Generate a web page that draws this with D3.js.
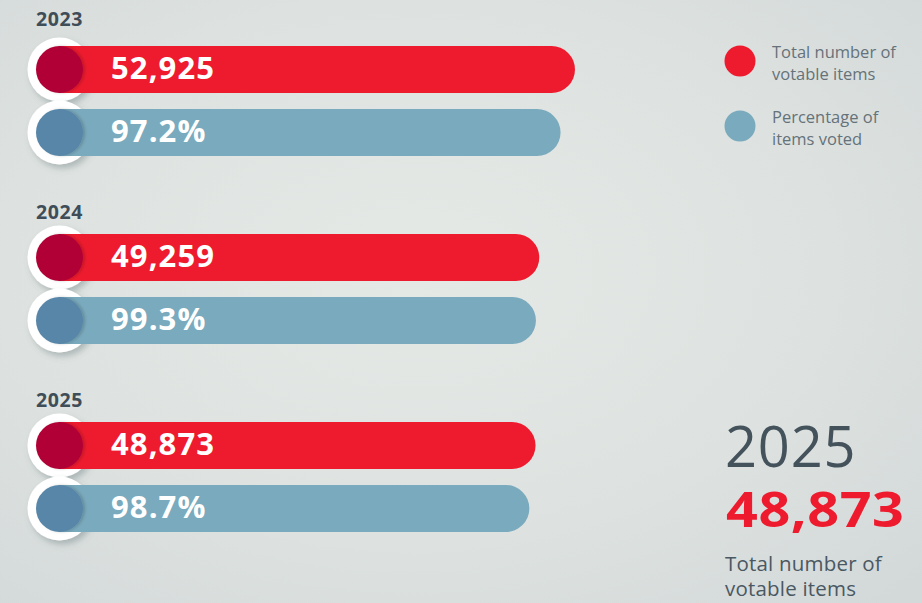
<!DOCTYPE html>
<html>
<head>
<meta charset="utf-8">
<script src="https://cdn.jsdelivr.net/npm/d3@7"></script>
<style>
  html, body { margin: 0; padding: 0; }
  body { width: 922px; height: 603px; overflow: hidden; }
  svg { display: block; font-family: "Open Sans", "Noto Sans", sans-serif; }
</style>
</head>
<body>
<div class="votes-chart"></div>
<script>
'use strict';

// data
var years = ['2023', '2024', '2025'];
var votableItems = [52925, 49259, 48873];
var pctVoted = [97.2, 99.3, 98.7];
var legendLabels = [['Total number of', 'votable items'], ['Percentage of', 'items voted']];
var highlightYear = '2025';
var highlightValue = 48873;
var highlightLabel = ['Total number of', 'votable items'];

var width = 922,
    height = 603;
var red = '#ee1b2e', redDark = '#b00035',
    blue = '#7aaabd', blueDark = '#5886a8',
    ink = '#3f4d58';

var svg = d3.select('.votes-chart').append('svg')
    .attr('width', width)
    .attr('height', height);

var defs = svg.append('defs');
var bg = defs.append('radialGradient').attr('id', 'bg')
    .attr('cx', '45%').attr('cy', '45%').attr('r', '75%');
bg.append('stop').attr('offset', '0%').attr('stop-color', '#e5e9e6');
bg.append('stop').attr('offset', '60%').attr('stop-color', '#dde2e0');
bg.append('stop').attr('offset', '100%').attr('stop-color', '#d3d9d9');

var shadow = defs.append('filter').attr('id', 'shadow')
    .attr('x', '-30%').attr('y', '-30%').attr('width', '170%').attr('height', '170%');
shadow.append('feDropShadow')
    .attr('dx', 3).attr('dy', 4).attr('stdDeviation', 3)
    .attr('flood-color', '#56656b').attr('flood-opacity', 0.35);

var soft = defs.append('filter').attr('id', 'soft')
    .attr('x', '-30%').attr('y', '-30%').attr('width', '170%').attr('height', '170%');
soft.append('feDropShadow')
    .attr('dx', 2).attr('dy', 0).attr('stdDeviation', 1.5)
    .attr('flood-color', '#000').attr('flood-opacity', 0.18);

svg.append('rect')
    .attr('width', width).attr('height', height)
    .attr('fill', 'url(#bg)');

var barH = 47, rowGap = 63;

var y = d3.scalePoint()
    .domain(years)
    .range([46, 422]);

// red bar length proportional to the count, blue bar = share of the red one
var x = d3.scaleLinear()
    .domain([0, d3.max(votableItems)])
    .range([59.5, 575]);
var pct = d3.scaleLinear()
    .domain([0, 100])
    .range([0, 1]);

var rows = years.map(function(yr, i) {
  var redLen = x(votableItems[i]) - x(0);
  return [
    {year: yr, top: y(yr), end: x(votableItems[i]), fill: red, dot: redDark,
     label: d3.format(',')(votableItems[i])},
    {year: yr, top: y(yr) + rowGap, end: x(0) + redLen * pct(pctVoted[i]),
     fill: blue, dot: blueDark, label: pctVoted[i].toFixed(1) + '%'}
  ];
});
var bars = d3.merge(rows);

// year headings
svg.append('g').selectAll('text')
    .data(years)
    .enter().append('text')
    .attr('x', 36)
    .attr('y', function(d, i) { return y(d) - (i === 0 ? 20 : 15); })
    .attr('fill', ink)
    .attr('font-size', 19.5)
    .attr('font-weight', 700)
    .attr('letter-spacing', 0.6)
    .text(function(d) { return d; });

// white rings sit behind all bars
svg.append('g').selectAll('circle')
    .data(bars)
    .enter().append('circle')
    .attr('cx', x(0))
    .attr('cy', function(d) { return d.top + barH / 2; })
    .attr('r', 32)
    .attr('fill', '#fff')
    .attr('filter', 'url(#shadow)');

svg.append('g').selectAll('path')
    .data(bars)
    .enter().append('path')
    .attr('fill', function(d) { return d.fill; })
    .attr('d', function(d) {
      var r = barH / 2, x0 = x(0), x1 = d.end;
      return 'M' + x0 + ',' + d.top +
        'H' + (x1 - r) +
        'A' + r + ',' + r + ' 0 0 1 ' + (x1 - r) + ',' + (d.top + barH) +
        'H' + x0 + 'Z';
    });

svg.append('g').selectAll('circle')
    .data(bars)
    .enter().append('circle')
    .attr('cx', x(0))
    .attr('cy', function(d) { return d.top + barH / 2; })
    .attr('r', barH / 2)
    .attr('fill', function(d) { return d.dot; })
    .attr('filter', 'url(#soft)');

svg.append('g').selectAll('text')
    .data(bars)
    .enter().append('text')
    .attr('x', 111)
    .attr('y', function(d) { return d.top + 33; })
    .attr('fill', '#fff')
    .attr('font-size', 31)
    .attr('font-weight', 700)
    .attr('letter-spacing', 1.1)
    .text(function(d) { return d.label; });

// legend
var legend = svg.append('g').selectAll('g')
    .data(legendLabels)
    .enter().append('g')
    .attr('transform', function(d, i) { return 'translate(740,' + (61 + i * 65) + ')'; });
legend.append('circle')
    .attr('r', 15.5)
    .attr('fill', function(d, i) { return i === 0 ? red : blue; });
legend.selectAll('text')
    .data(function(d) { return d; })
    .enter().append('text')
    .attr('x', 32)
    .attr('y', function(d, i) { return -3 + i * 22; })
    .attr('fill', '#65727a')
    .attr('font-size', 16.5)
    .attr('font-weight', 400)
    .text(function(d) { return d; });

// highlight block, bottom right
var hl = svg.append('g').attr('transform', 'translate(725,0)');
hl.append('text')
    .attr('y', 467)
    .attr('fill', '#44525c')
    .attr('font-size', 56)
    .attr('font-weight', 400)
    .attr('letter-spacing', 0.8)
    .text(highlightYear);
hl.append('text')
    .attr('y', 527)
    .attr('fill', red)
    .attr('font-size', 48)
    .attr('font-weight', 700)
    .attr('transform', 'translate(1,0) scale(1.16,1)')
    .attr('letter-spacing', 0.5)
    .text(d3.format(',')(highlightValue));
hl.selectAll('.hl-label')
    .data(highlightLabel)
    .enter().append('text')
    .attr('class', 'hl-label')
    .attr('y', function(d, i) { return 571 + i * 25; })
    .attr('fill', '#4a5863')
    .attr('font-size', 20.5)
    .attr('letter-spacing', 0.2)
    .text(function(d) { return d; });
</script>
</body>
</html>
